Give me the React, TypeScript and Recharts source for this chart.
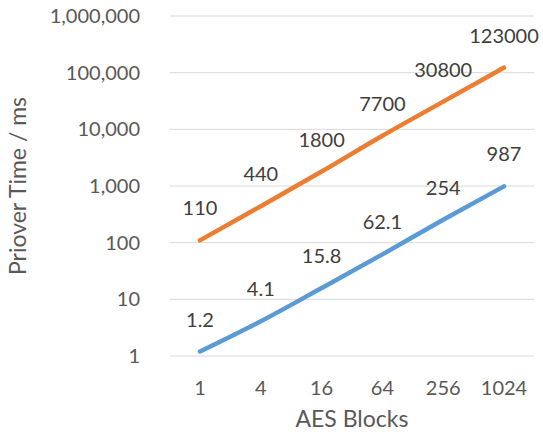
import React from "react";
import { LineChart, Line, XAxis, YAxis, CartesianGrid, LabelList } from "recharts";

// AES block counts on the x axis
const blocks = ["1", "4", "16", "64", "256", "1024"];
// Prover time (ms) for the two series
const slowTimes = [110, 440, 1800, 7700, 30800, 123000];
const fastTimes = [1.2, 4.1, 15.8, 62.1, 254, 987];
// Log-scale y ticks
const yTicks = [1, 10, 100, 1000, 10000, 100000, 1000000];

const data = blocks.map((b, i) => ({ blocks: b, slow: slowTimes[i], fast: fastTimes[i] }));

const FONT = "Lato, 'Open Sans', sans-serif";
const TICK_COLOR = "#595959";
const LABEL_COLOR = "#404040";

export default function App() {
  return (
    <div style={{ position: "absolute", left: 0, top: 0, background: "#fff" }}>
      <LineChart
        width={543}
        height={440}
        data={data}
        margin={{ top: 16, right: 9, left: 0, bottom: 0 }}
        style={{ fontFamily: FONT }}
      >
        <CartesianGrid vertical={false} stroke="#D9D9D9" strokeWidth={1} />
        <XAxis
          dataKey="blocks"
          height={84}
          axisLine={false}
          tickLine={false}
          tickSize={0}
          tickMargin={25}
          padding={{ left: 30, right: 30 }}
          tick={{ fill: TICK_COLOR, fontSize: 20, fontFamily: FONT }}
          label={{
            value: "AES Blocks",
            position: "insideBottom",
            offset: 13,
            fill: TICK_COLOR,
            fontSize: 23,
            fontFamily: FONT,
          }}
        />
        <YAxis
          scale="log"
          domain={[1, 1000000]}
          ticks={yTicks}
          allowDataOverflow
          width={170}
          axisLine={false}
          tickLine={false}
          tickSize={0}
          tickMargin={30}
          tickFormatter={(v: number) => v.toLocaleString("en-US")}
          tick={{ fill: TICK_COLOR, fontSize: 20, fontFamily: FONT }}
          label={{
            value: "Priover Time / ms",
            angle: -90,
            position: "insideLeft",
            offset: 18,
            style: { textAnchor: "middle" },
            fill: TICK_COLOR,
            fontSize: 23,
            fontFamily: FONT,
          }}
        />
        <Line
          type="monotone"
          dataKey="slow"
          stroke="#ED7D31"
          strokeWidth={4.5}
          dot={false}
          strokeLinecap="round"
          isAnimationActive={false}
        >
          <LabelList
            dataKey="slow"
            position="top"
            offset={25}
            fill={LABEL_COLOR}
            fontSize={20}
            fontFamily={FONT}
            formatter={(v: number) => String(v)}
          />
        </Line>
        <Line
          type="monotone"
          dataKey="fast"
          stroke="#5B9BD5"
          strokeWidth={4.5}
          dot={false}
          strokeLinecap="round"
          isAnimationActive={false}
        >
          <LabelList
            dataKey="fast"
            position="top"
            offset={25}
            fill={LABEL_COLOR}
            fontSize={20}
            fontFamily={FONT}
            formatter={(v: number) => String(v)}
          />
        </Line>
      </LineChart>
    </div>
  );
}
